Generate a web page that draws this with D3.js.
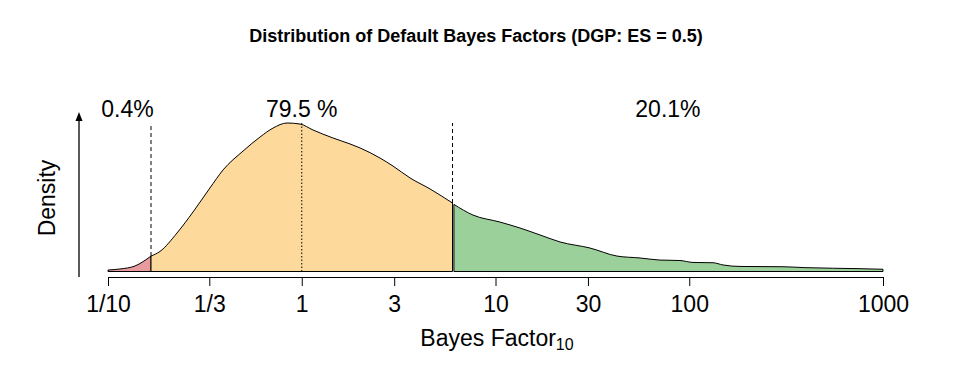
<!DOCTYPE html>
<html><head><meta charset="utf-8">
<script src="https://cdn.jsdelivr.net/npm/d3@7"></script>
<style>
body{margin:0;background:#fff;}
text{font-family:Arial,"Liberation Sans",sans-serif;}
</style></head>
<body><svg id="c" width="955" height="375"></svg>
<script>
// Bayes factor grid (BF10) and density estimates
const bf = [0.1,0.1153,0.1377,0.1667,0.1854,0.2270,0.2748,0.3357,0.3926,0.4977,0.6095,0.7112,0.8395,0.9795,1.143,1.449,1.774,2.0,2.535,2.958,3.622,4.592,6,6.1,7.656,10.54,13.37,16.98,21.53,30.76,42.36,55.72,70.63,89.54,104.5,132.7,149.3,182.8,304.8,395.4,760.3,1000];
const density = [0.010,0.017,0.037,0.104,0.135,0.259,0.401,0.562,0.684,0.811,0.906,0.966,1.000,0.993,0.953,0.899,0.859,0.832,0.764,0.710,0.630,0.556,0.461,0.452,0.380,0.333,0.293,0.246,0.199,0.158,0.104,0.091,0.077,0.074,0.061,0.059,0.044,0.034,0.032,0.026,0.019,0.015];
const thresholds = [0.1667, 6];
const regionPct = ["0.4%","79.5 %","20.1%"];
const regionLabelAt = [0.126, 1, 77.6];
const tickValues = [0.1, 1/3, 1, 3, 10, 30, 100, 1000];
const tickLabels = ["1/10","1/3","1","3","10","30","100","1000"];
const colors = ["#E79B9F","#FDD99B","#9BD09A"];

const svg = d3.select("#c");
const x = d3.scaleLog().domain([0.1, 1000]).range([108, 883]);
const y = d3.scaleLinear().domain([0, 1]).range([271.5, 123]);

const pts = bf.map((b,i)=>({b, d: density[i]}));
const regions = [
  pts.filter(p=>p.b<=thresholds[0]),
  pts.filter(p=>p.b>=thresholds[0] && p.b<=thresholds[1]),
  pts.filter(p=>p.b>thresholds[1])
];
const line = d3.line().x(p=>x(p.b)).y(p=>y(p.d)).curve(d3.curveMonotoneX);
regions.forEach((r,i)=>{
  const first = r[0], last = r[r.length-1];
  const path = "M"+x(first.b)+","+y(0)+"L"+line(r).slice(1)+"L"+x(last.b)+","+y(0)+"Z";
  svg.append("path").attr("d", path).attr("fill", colors[i]).attr("stroke","#000").attr("stroke-width",1);
});

const dmax = d3.max(density);
// dashed threshold lines
thresholds.forEach(t=>{
  const i = bf.indexOf(t);
  svg.append("line").attr("x1",x(t)).attr("x2",x(t)).attr("y1",y(density[i])).attr("y2",y(dmax))
    .attr("stroke","#000").attr("stroke-dasharray","4,3").attr("stroke-width",1);
});
// dotted line at BF=1
svg.append("line").attr("x1",x(1)).attr("x2",x(1)).attr("y1",y(0)).attr("y2",y(dmax)-0.5)
  .attr("stroke","#000").attr("stroke-dasharray","1.5,2").attr("stroke-width",1);

// x axis
const axis = d3.axisBottom(x).tickValues(tickValues).tickFormat((d,i)=>tickLabels[i]).tickSizeOuter(0).tickSize(9).tickPadding(4);
const g = svg.append("g").attr("transform","translate(0,277)").call(axis);
g.select(".domain").attr("stroke","#000").attr("d","M108,0.5H883");
g.selectAll(".tick line").attr("stroke","#000");
g.selectAll(".tick text").attr("font-size",23).attr("fill","#000").attr("font-family",'Arial,"Liberation Sans",sans-serif').attr("dy","0.94em");

// y arrow
svg.append("line").attr("x1",79).attr("x2",79).attr("y1",277).attr("y2",118).attr("stroke","#000").attr("stroke-width",1.3);
svg.append("path").attr("d","M79,112L75.5,121L82.5,121Z").attr("fill","#000");

// labels
regionLabelAt.forEach((b,i)=>{
  svg.append("text").attr("x", x(b)).attr("y",117).attr("text-anchor","middle")
    .attr("font-size",23).text(regionPct[i]);
});

svg.append("text").attr("x",476).attr("y",42).attr("text-anchor","middle").attr("font-weight","bold")
  .attr("font-size",18).attr("font-family",'"Liberation Sans",Arial,sans-serif')
  .text("Distribution of Default Bayes Factors (DGP: ES = 0.5)");

const xt = svg.append("text").attr("x",497).attr("y",346).attr("text-anchor","middle").attr("font-size",23);
xt.append("tspan").text("Bayes Factor");
xt.append("tspan").attr("font-size",16).attr("dy",4).text("10");

svg.append("text").attr("transform","translate(55,198) rotate(-90)").attr("text-anchor","middle")
  .attr("font-size",23).text("Density");
</script></body></html>
